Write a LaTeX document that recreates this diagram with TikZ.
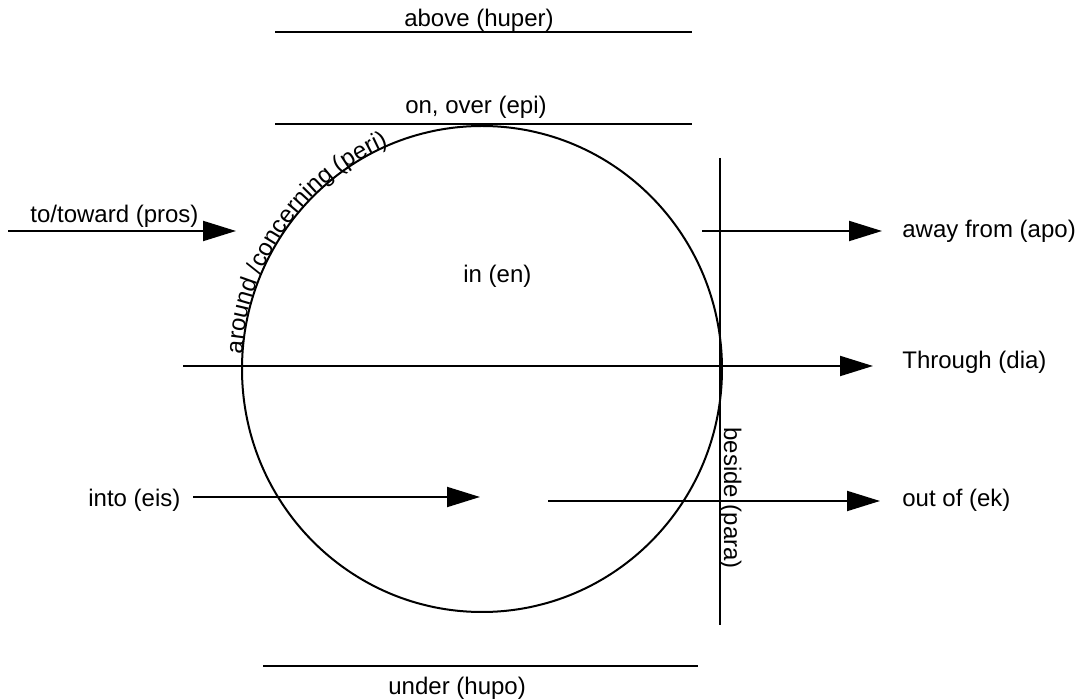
\documentclass[tikz,border=0pt]{standalone}
\usepackage{fontspec}
\setmainfont{Liberation Sans}
\usetikzlibrary{arrows.meta,decorations.text}

\begin{document}
\begin{tikzpicture}
  [x=0.5pt,y=-0.5pt,
  lbl/.style={inner sep=0pt,font=\fontsize{12}{14}\selectfont},
  bar/.style={line width=1pt},
  arr/.style={line width=1pt,-{Triangle[length=16.5pt,width=10pt]}}]

  \useasboundingbox (0,0) rectangle (1084,700);

  % the circle
  \coordinate (ctr) at (482,369);
  \draw[bar] (ctr) ellipse [x radius=240,y radius=243];
  \node[lbl,anchor=base west] (en) at (463,283) {in (en)};

  % lines above and under
  \coordinate (huper0) at (275,32);
  \coordinate (huper1) at (692,32);
  \draw[bar] (huper0) -- (huper1);
  \node[lbl,anchor=base] (huper) at (479,27) {above (huper)};

  \coordinate (epi0) at (275,124);
  \coordinate (epi1) at (692,124);
  \draw[bar] (epi0) -- (epi1);
  \node[lbl,anchor=base] (epi) at (476,114) {on, over (epi)};

  \coordinate (hupo0) at (263,666);
  \coordinate (hupo1) at (698,666);
  \draw[bar] (hupo0) -- (hupo1);
  \node[lbl,anchor=base west] (hupo) at (388,695) {under (hupo)};

  % beside
  \coordinate (para0) at (720,158);
  \coordinate (para1) at (720,625);
  \draw[bar] (para0) -- (para1);
  \node[lbl,anchor=base west,rotate=-90] (para) at (724,427) {beside (para)};

  % around
  \path[decorate,decoration={text along path,
    text={|\fontsize{12}{14}\selectfont|around /concerning (peri)}}]
    ([shift={(183.5:240 and 243)}]ctr)
    arc[start angle=183.5,end angle=260,x radius=240,y radius=243];

  % arrows
  \node[lbl,anchor=base west] (pros) at (30,223) {to/toward (pros)};
  \coordinate (pros0) at (8,231);
  \coordinate (pros1) at (236,231);
  \draw[arr] (pros0) -- (pros1);

  \node[lbl,anchor=base west] (apo) at (902,238) {away from (apo)};
  \coordinate (apo0) at (702,231);
  \coordinate (apo1) at (882,231);
  \draw[arr] (apo0) -- (apo1);

  \node[lbl,anchor=base west] (dia) at (902,369) {Through (dia)};
  \coordinate (dia0) at (183,366);
  \coordinate (dia1) at (873,366);
  \draw[arr] (dia0) -- (dia1);

  \node[lbl,anchor=base west] (eis) at (88,507) {into (eis)};
  \coordinate (eis0) at (193,497);
  \coordinate (eis1) at (480,497);
  \draw[arr] (eis0) -- (eis1);

  \node[lbl,anchor=base west] (ek) at (902,507) {out of (ek)};
  \coordinate (ek0) at (548,501);
  \coordinate (ek1) at (880,501);
  \draw[arr] (ek0) -- (ek1);

\end{tikzpicture}
\end{document}
